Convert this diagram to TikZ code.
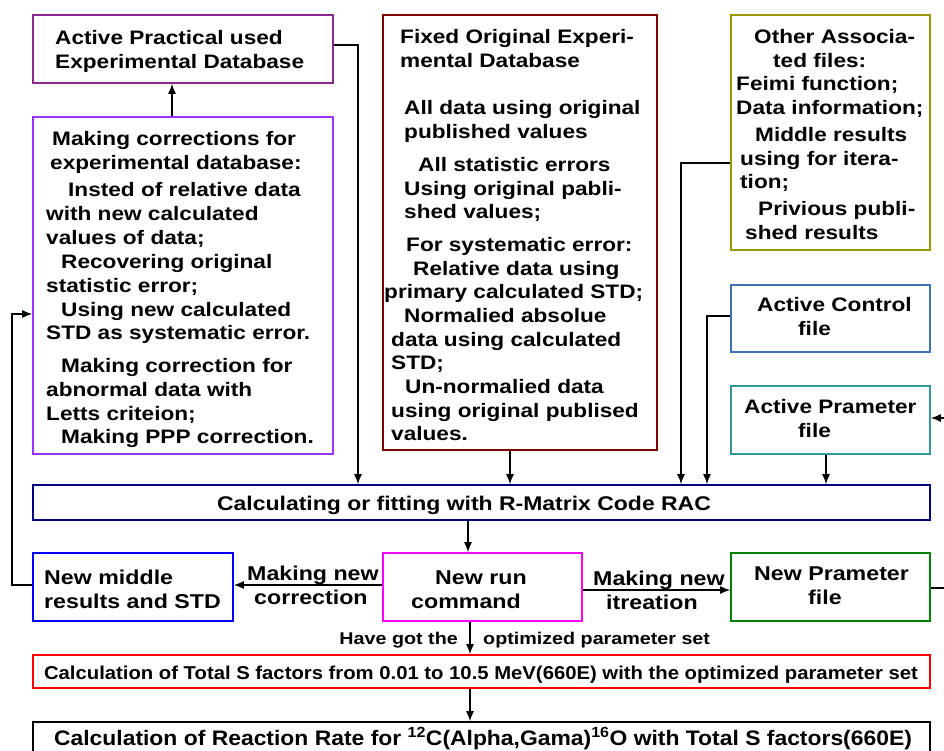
\documentclass[tikz,border=0pt]{standalone}
\usepackage{fontspec}
\setmainfont{Liberation Sans}
\newfontfamily\fs{Liberation Sans}[FakeStretch=1.16]
\newfontfamily\fsm{Liberation Sans}[FakeStretch=1.09]
\usetikzlibrary{arrows.meta}
\definecolor{cA}{RGB}{140,40,140}
\definecolor{cB}{RGB}{153,51,255}
\definecolor{cC}{RGB}{128,0,0}
\definecolor{cD}{RGB}{153,153,0}
\definecolor{cE}{RGB}{65,113,180}
\definecolor{cF}{RGB}{49,153,153}
\definecolor{cG}{RGB}{0,0,128}
\definecolor{cH}{RGB}{0,0,255}
\definecolor{cI}{RGB}{255,0,255}
\definecolor{cJ}{RGB}{0,128,0}
\definecolor{cK}{RGB}{255,0,0}
\begin{document}
\begin{tikzpicture}[x=1pt,y=-1pt,
  box/.style={draw, line width=1.6pt, inner sep=0pt},
  txt/.style={anchor=north west, inner sep=0pt, align=left, font=\fs\bfseries\fontsize{19.5}{23.7}\selectfont},
  txtb/.style={anchor=north west, inner sep=0pt, align=left, font=\fs\bfseries\fontsize{20}{23.7}\selectfont},
  lbl/.style={inner sep=0pt, font=\fs\bfseries\fontsize{17}{20}\selectfont},
  conn/.style={line width=1.4pt},
  arr/.style={conn, -{Latex[length=10pt,width=8pt]}}]
\useasboundingbox (0,0) rectangle (944,751);
\fill[white] (0,0) rectangle (944,751);
% boxes
\node[box, draw=cA, minimum width=300pt, minimum height=68pt] (A) at (183,49) {};
\node[box, draw=cB, minimum width=300pt, minimum height=337pt] (B) at (183,285.5) {};
\node[box, draw=cC, minimum width=274pt, minimum height=435pt] (C) at (520,232.5) {};
\node[box, draw=cD, minimum width=199pt, minimum height=235pt] (D) at (830.5,132.5) {};
\node[box, draw=cE, minimum width=199pt, minimum height=67pt] (E) at (830.5,318.5) {};
\node[box, draw=cF, minimum width=199pt, minimum height=68pt] (F) at (830.5,420) {};
\node[box, draw=cG, minimum width=897pt, minimum height=35pt] (G) at (481.5,502.5) {};
\node[box, draw=cH, minimum width=200pt, minimum height=68pt] (H) at (133,587) {};
\node[box, draw=cI, minimum width=199pt, minimum height=68pt] (I) at (482.5,587) {};
\node[box, draw=cJ, minimum width=199pt, minimum height=68pt] (J) at (830.5,587) {};
\node[box, draw=cK, minimum width=897pt, minimum height=33pt] (K) at (481.5,671.5) {};
\node[box, draw=black, minimum width=897pt, minimum height=58pt] (L) at (481.5,751) {};
% texts
\node[txt] (tA) at (55,30) {Active Practical used\\Experimental Database};
\node[txt] (tB) at (46,131) {\hspace*{6pt}Making corrections for\\
\hspace*{4pt}experimental database:\\[4pt]
\hspace*{22pt}Insted of relative data\\
with new calculated\\
values of data;\\[1pt]
\hspace*{15pt}Recovering original\\
statistic error;\\
\hspace*{15pt}Using new calculated\\
STD as systematic error.\\[9pt]
\hspace*{15pt}Making correction for\\
abnormal data with\\
Letts criteion;\\
\hspace*{15pt}Making PPP correction.};
\node[txt] (tC) at (384,29) {\hspace*{16pt}Fixed Original Experi-\\
\hspace*{16pt}mental Database\\[23.6pt]
\hspace*{20pt}All data using original\\
\hspace*{20pt}published values\\[9.6pt]
\hspace*{34pt}All statistic errors\\
\hspace*{20pt}Using original pabli-\\
\hspace*{20pt}shed values;\\[8.9pt]
\hspace*{22pt}For systematic error:\\
\hspace*{29pt}Relative data using\\
primary calculated STD;\\
\hspace*{20pt}Normalied absolue\\
\hspace*{7pt}data using calculated\\
\hspace*{7pt}STD;\\
\hspace*{21pt}Un-normalied data\\
\hspace*{7pt}using original publised\\
\hspace*{7pt}values.};
\node[txt] (tD) at (736,29) {\hspace*{18pt}Other Associa-\\
\hspace*{37pt}ted files:\\
Feimi function;\\
Data information;\\[3.2pt]
\hspace*{19pt}Middle results\\
\hspace*{4pt}using for itera-\\
\hspace*{4pt}tion;\\[2.9pt]
\hspace*{22pt}Privious publi-\\
\hspace*{9pt}shed results};
\node[txt] (tE) at (757,297) {Active Control\\\hspace*{41pt}file};
\node[txt] (tF) at (744,399) {Active Prameter\\\hspace*{54pt}file};
\node[inner sep=0pt, anchor=base, font=\fs\bfseries\fontsize{19.8}{24}\selectfont] (tG) at (464,510) {Calculating or fitting with R-Matrix Code RAC};
\node[txtb] (tH) at (44,570) {New middle\\results and STD};
\node[txtb] (tI) at (435,571) {New run\\\hspace*{-24pt}command};
\node[txtb] (tJ) at (754,567) {New Prameter\\\hspace*{54pt}file};
\node[txtb] (l1) at (247,566) {Making new\\\hspace*{7pt}correction};
\node[txtb] (l2) at (593,571) {Making new\\\hspace*{13pt}itreation};
\node[lbl, anchor=north east] (l3) at (458,632) {Have got the};
\node[lbl, anchor=north west] (l4) at (483,632) {optimized parameter set};
\node[inner sep=0pt, anchor=base, font=\fsm\bfseries\fontsize{18.6}{22}\selectfont] (tK) at (481,679.5) {Calculation of Total S factors from 0.01 to 10.5 MeV(660E) with the optimized parameter set};
\node[inner sep=0pt, anchor=base, font=\fsm\bfseries\fontsize{21}{24}\selectfont] (tL) at (483,745.5) {Calculation of Reaction Rate for \textsuperscript{12}C(Alpha,Gama)\textsuperscript{16}O with Total S factors(660E)};
% connectors
\coordinate (p1) at (172,0);
\draw[arr] (B.north -| p1) -- (A.south -| p1);
\coordinate (p2) at (358,45);
\draw[arr] (A.east |- p2) -- (p2) -- (G.north -| p2);
\coordinate (p3) at (510,0);
\draw[arr] (C.south -| p3) -- (G.north -| p3);
\coordinate (p4) at (681,163);
\draw[arr] (D.west |- p4) -- (p4) -- (G.north -| p4);
\coordinate (p5) at (707,316);
\draw[arr] (E.west |- p5) -- (p5) -- (G.north -| p5);
\coordinate (p6) at (826,0);
\draw[arr] (F.south -| p6) -- (G.north -| p6);
\coordinate (p7) at (944,418);
\draw[arr] (p7) -- (F.east |- p7);
\coordinate (p8) at (468,0);
\draw[arr] (G.south -| p8) -- (I.north -| p8);
\coordinate (p9) at (0,585);
\draw[arr] (I.west |- p9) -- (H.east |- p9);
\coordinate (p10) at (0,590);
\draw[arr] (I.east |- p10) -- (J.west |- p10);
\coordinate (p11) at (12,314);
\draw[arr] (H.west |- p9) -| (p11) -- (B.west |- p11);
\coordinate (p12) at (944,588);
\draw[conn] (J.east |- p12) -- (p12);
\coordinate (p13) at (470,0);
\draw[arr] (I.south -| p13) -- (K.north -| p13);
\draw[arr] (K.south -| p13) -- (L.north -| p13);
\end{tikzpicture}
\end{document}
